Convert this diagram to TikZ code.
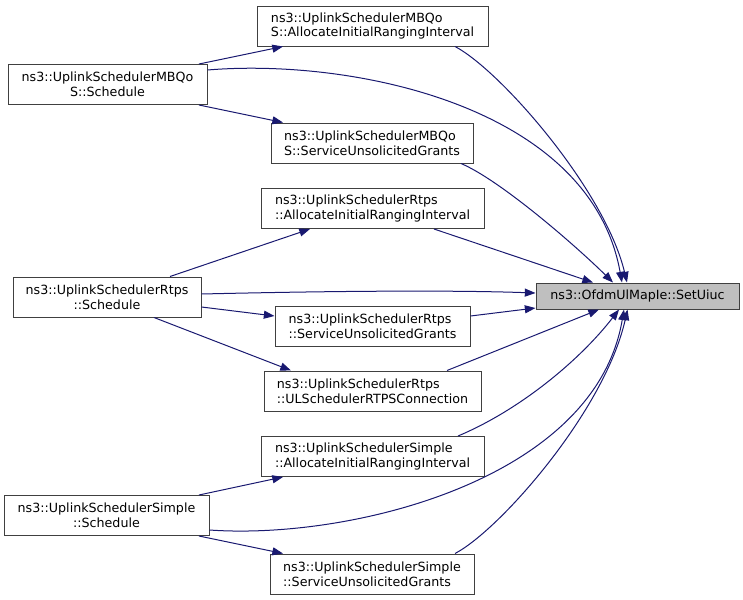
\documentclass[tikz,border=0pt]{standalone}
\usepackage{fontspec}
\newfontfamily\dejavu{DejaVu Sans}
\usetikzlibrary{arrows.meta,calc}
\definecolor{edgeblue}{HTML}{191970}
\definecolor{boxline}{HTML}{404040}
\definecolor{hilite}{HTML}{BFBFBF}
\tikzset{
  fn/.style={draw=boxline, fill=white, line width=0.75pt, inner sep=0pt,
    minimum height=30pt, font={\dejavu\fontsize{9.5}{11}\selectfont}},
  call/.style={draw=edgeblue, line width=0.75pt,
    -{Triangle[length=8pt,width=6pt]}, fill=none},
}
\begin{document}
\begin{tikzpicture}[x=0.75pt,y=-0.75pt]
\useasboundingbox (0,0) rectangle (743,600);
% callers
\node[fn, align=center, minimum width=149.25pt] (mbSched) at (107.5,84.5) {ns3::UplinkSchedulerMBQo\\S::Schedule};
\node[fn, align=center, minimum width=141pt] (rtSched) at (107,297) {ns3::UplinkSchedulerRtps\\::Schedule};
\node[fn, align=center, minimum width=153.75pt] (smSched) at (106.5,515.5) {ns3::UplinkSchedulerSimple\\::Schedule};
% middle column
\node[fn, align=left, minimum width=173.25pt] (mbAlloc) at (372.5,26) {ns3::UplinkSchedulerMBQo\\S::AllocateInitialRangingInterval};
\node[fn, align=left, minimum width=151.5pt] (mbGrant) at (372,143) {ns3::UplinkSchedulerMBQo\\S::ServiceUnsolicitedGrants};
\node[fn, align=left, minimum width=167.25pt] (rtAlloc) at (372.5,208.5) {ns3::UplinkSchedulerRtps\\::AllocateInitialRangingInterval};
\node[fn, align=left, minimum width=146.25pt] (rtGrant) at (372.5,326) {ns3::UplinkSchedulerRtps\\::ServiceUnsolicitedGrants};
\node[fn, align=left, minimum width=162.75pt] (rtConn) at (372.5,391) {ns3::UplinkSchedulerRtps\\::ULSchedulerRTPSConnection};
\node[fn, align=left, minimum width=167.25pt] (smAlloc) at (372.5,456.5) {ns3::UplinkSchedulerSimple\\::AllocateInitialRangingInterval};
\node[fn, align=left, minimum width=153pt] (smGrant) at (372,574) {ns3::UplinkSchedulerSimple\\::ServiceUnsolicitedGrants};
% callee
\node[fn, fill=hilite, minimum width=152.25pt, minimum height=19.5pt] (ulSet) at (637.5,296) {ns3::OfdmUlMapIe::SetUiuc};
% MBQoS
\draw[call] ($(mbSched.north)+(91.5,0)$) -- ($(mbAlloc.south)+(-89.5,0)$);
\draw[call] ($(mbSched.south)+(91.5,0)$) -- ($(mbGrant.north)+(-89,0)$);
\draw[call] ($(mbSched.east)+(0,-14.5)$) .. controls (350,58) and (590,105) .. ($(ulSet.north)+(-15.5,0)$);
\draw[call] ($(mbAlloc.south)+(82.5,0)$) .. controls (500,70) and (605,190) .. ($(ulSet.north)+(-10.5,0)$);
\draw[call] ($(mbGrant.south)+(89,0)$) .. controls (500,180) and (575,245) .. ($(ulSet.north)+(-24.5,0)$);
% Rtps
\draw[call] ($(rtSched.north)+(63,0)$) -- ($(rtAlloc.south)+(-62.5,0)$);
\draw[call] ($(rtAlloc.south)+(61.5,0)$) -- ($(ulSet.north)+(-44.5,0)$);
\draw[call] ($(rtSched.east)+(0,-3)$) .. controls (330,291) and (450,290) .. ($(ulSet.west)+(0,-3)$);
\draw[call] ($(rtSched.east)+(0,10)$) -- ($(rtGrant.west)+(0,-10)$);
\draw[call] ($(rtSched.south)+(47,0)$) -- ($(rtConn.north)+(-81.5,0)$);
\draw[call] ($(rtGrant.east)+(0,-10)$) -- ($(ulSet.west)+(0,12)$);
\draw[call] ($(rtConn.north)+(74.5,0)$) -- ($(ulSet.south)+(-38.5,0)$);
% Simple
\draw[call] ($(smSched.north)+(92.5,0)$) -- ($(smAlloc.south)+(-89.5,0)$);
\draw[call] ($(smSched.south)+(92.5,0)$) -- ($(smGrant.north)+(-89,0)$);
\draw[call] ($(smSched.east)+(0,14.5)$) .. controls (350,540) and (595,480) .. ($(ulSet.south)+(-13.5,0)$);
\draw[call] ($(smAlloc.north)+(85.5,0)$) .. controls (520,410) and (580,360) .. ($(ulSet.south)+(-18.5,0)$);
\draw[call] ($(smGrant.north)+(83,0)$) .. controls (500,530) and (605,410) .. ($(ulSet.south)+(-10,0)$);
\end{tikzpicture}
\end{document}
